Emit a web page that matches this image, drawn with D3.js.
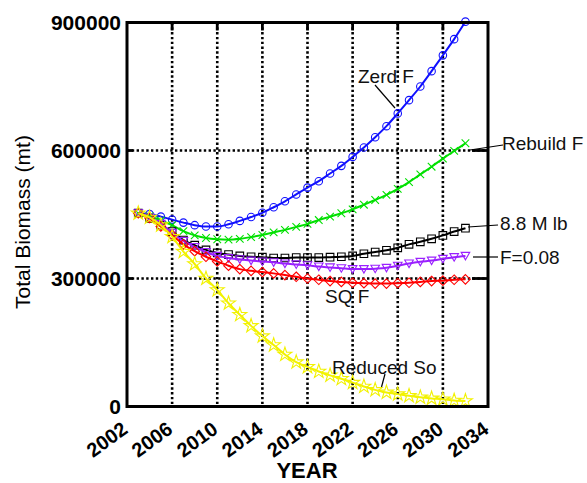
<!DOCTYPE html>
<html><head><meta charset="utf-8">
<script src="https://cdn.jsdelivr.net/npm/d3@7"></script>
<style>body{margin:0;background:#fff}svg{display:block}text{font-family:"Liberation Sans",Arial,sans-serif}</style>
</head><body>
<svg id="c" width="587" height="483"></svg>
<script>
const years = d3.range(2003, 2033);
const zeroF = [453000,451000,445000,438000,431000,425000,422000,422000,427000,435000,444000,454000,467000,481000,497000,513000,528000,546000,564000,585000,607000,631000,657000,687000,718000,750000,786000,823000,861000,902000];
const rebuildF = [453000,446000,436000,425000,411000,401000,395000,392000,391000,393000,397000,402000,408000,414000,421000,428000,437000,445000,453000,462000,473000,484000,496000,510000,526000,544000,562000,581000,599000,617000];
const mlb88 = [453000,441000,425000,410000,390000,378000,367000,360000,356000,353000,351000,350000,348000,348000,349000,349000,349000,350000,351000,353000,358000,362000,366000,372000,380000,386000,393000,401000,410000,418000];
const f008 = [453000,443000,428000,407000,388000,374000,362000,353000,348000,345000,342000,340000,338000,335000,333000,331000,328000,326000,324000,322000,322000,323000,325000,330000,335000,339000,342000,346000,350000,353000];
const sqF = [453000,442000,422000,402000,380000,364000,351000,340000,330000,322000,318000,315000,312000,308000,304000,300000,297000,294000,292000,290000,289000,288000,288000,289000,290000,292000,294000,295000,297000,298000];
const reducedSo = [453000,443000,425000,398000,363000,334000,300000,273000,242000,215000,189000,165000,144000,122000,104000,93000,82000,73000,65000,56000,47000,39000,33000,29000,25000,21500,19000,17000,14000,13000];
const xTicks = [2002,2006,2010,2014,2018,2022,2026,2030,2034];
const yTicks = [0,300000,600000,900000];

const series = [
  {name:"Zerd F", values:zeroF, color:"#1010ff", marker:"circle"},
  {name:"Rebuild F", values:rebuildF, color:"#00e000", marker:"x"},
  {name:"8.8 M lb", values:mlb88, color:"#000000", marker:"square"},
  {name:"F=0.08", values:f008, color:"#9a20ff", marker:"tri"},
  {name:"SQ F", values:sqF, color:"#ff0000", marker:"diamond"},
  {name:"Reduced So", values:reducedSo, color:"#f2f200", marker:"star"}
];

const svg = d3.select("#c");
const L=127, R=488, T=22.5, B=406.5;
const x = d3.scaleLinear().domain([2002,2034]).range([L,R]);
const y = d3.scaleLinear().domain([0,900000]).range([B,T]);

// grid
const g = svg.append("g");
g.selectAll(".vg").data(xTicks.slice(1,-1)).join("line")
  .attr("x1",d=>x(d)).attr("x2",d=>x(d)).attr("y1",T).attr("y2",B)
  .attr("stroke","#000").attr("stroke-width",2.6).attr("stroke-dasharray","2.4,2.4");
g.selectAll(".hg").data(yTicks.slice(1,-1)).join("line")
  .attr("x1",L).attr("x2",R).attr("y1",d=>y(d)).attr("y2",d=>y(d))
  .attr("stroke","#000").attr("stroke-width",2.6).attr("stroke-dasharray","2.4,2.4");

// inner ticks
g.selectAll(".rt").data(yTicks.slice(1,-1)).join("line")
  .attr("x1",R-16).attr("x2",R).attr("y1",d=>y(d)).attr("y2",d=>y(d))
  .attr("stroke","#000").attr("stroke-width",2.8);
g.selectAll(".lt").data(yTicks.slice(1,-1)).join("line")
  .attr("x1",L).attr("x2",L+6).attr("y1",d=>y(d)).attr("y2",d=>y(d))
  .attr("stroke","#000").attr("stroke-width",2.8);
g.selectAll(".tt").data(xTicks.slice(1,-1)).join("line")
  .attr("x1",d=>x(d)).attr("x2",d=>x(d)).attr("y1",T).attr("y2",T+8)
  .attr("stroke","#000").attr("stroke-width",2.8);

// lines and markers
const line = d3.line().x((d,i)=>x(years[i])).y(d=>y(d)).curve(d3.curveMonotoneX);
function markerPath(type){
  const s=3.8;
  switch(type){
    case "circle": return d3.symbol(d3.symbolCircle, 44)();
    case "square": return `M${-s},${-s}H${s}V${s}H${-s}Z`;
    case "x": return `M${-s},${-s}L${s},${s}M${-s},${s}L${s},${-s}`;
    case "tri": return `M${-4.3},${-3.5}H${4.3}L0,${4}Z`;
    case "diamond": return `M0,${-4.8}L${4.8},0L0,${4.8}L${-4.8},0Z`;
    case "star": return d3.symbol(d3.symbolStar, 60)();
  }
}
series.forEach(s=>{
  const gs = svg.append("g");
  gs.append("path").datum(s.values).attr("d",line)
    .attr("fill","none").attr("stroke",s.color).attr("stroke-width",2);
  gs.selectAll("path.m").data(s.values).join("path").attr("class","m")
    .attr("transform",(d,i)=>`translate(${x(years[i])},${y(d)})`)
    .attr("d",markerPath(s.marker))
    .attr("fill","none").attr("stroke",s.color).attr("stroke-width",1.1);
});

// frame
svg.append("rect").attr("x",L).attr("y",T).attr("width",R-L).attr("height",B-T)
  .attr("fill","none").attr("stroke","#000").attr("stroke-width",3);

// axes labels
svg.selectAll(".yl").data(yTicks).join("text")
  .attr("x",121).attr("y",d=>y(d)).attr("dy","0.36em")
  .attr("text-anchor","end").attr("font-size",21).attr("font-weight","bold")
  .text(d=>d);
svg.selectAll(".xl").data(xTicks).join("text")
  .attr("transform",d=>`translate(${x(d)+2},${432}) rotate(-36)`)
  .attr("text-anchor","end").attr("font-size",20).attr("font-weight","bold")
  .text(d=>d);
svg.append("text").attr("x",307).attr("y",478).attr("text-anchor","middle")
  .attr("font-size",22).attr("font-weight","bold").text("YEAR");
svg.append("text").attr("transform","translate(30,222) rotate(-90)")
  .attr("text-anchor","middle").attr("font-size",21).text("Total Biomass (mt)");

// series annotations
const ann = [
  {t:"Zerd F", tx:358, ty:83, l:[375,85,395,108]},
  {t:"Rebuild F", tx:502, ty:150, l:[470,150,503,145]},
  {t:"8.8 M lb", tx:500, ty:230, l:[468,227,498,225]},
  {t:"F=0.08", tx:500, ty:264, l:[473,257,498,257]},
  {t:"SQ F", tx:325, ty:303, l:null},
  {t:"Reduced So", tx:332, ty:374, l:[385,374,381.5,387]}
];
ann.forEach(a=>{
  svg.append("text").attr("x",a.tx).attr("y",a.ty).attr("font-size",19).attr("fill","#111").text(a.t);
  if(a.l) svg.append("line").attr("x1",a.l[0]).attr("y1",a.l[1]).attr("x2",a.l[2]).attr("y2",a.l[3])
    .attr("stroke","#000").attr("stroke-width",1.2);
});
</script>
</body></html>
